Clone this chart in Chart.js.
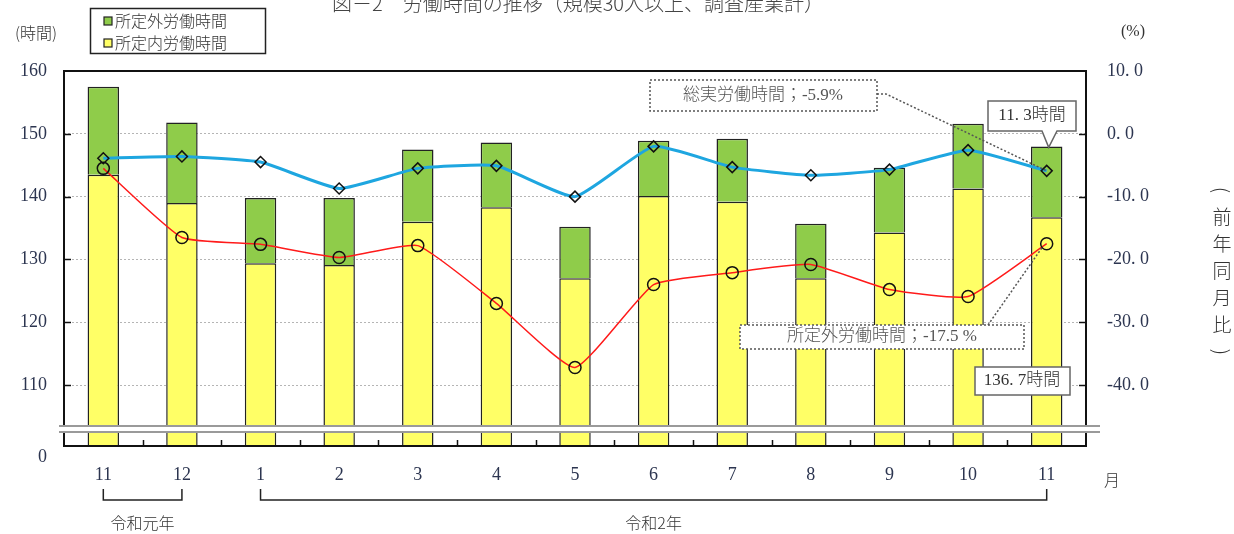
<!DOCTYPE html>
<html>
<head>
<meta charset="utf-8">
<script src="https://cdn.jsdelivr.net/npm/chart.js@4.4.1/dist/chart.umd.min.js"></script>
<style>
  html, body { margin: 0; padding: 0; background: #fff; }
  #c { display: block; }
</style>
</head>
<body>
<canvas id="c" width="1234" height="534"></canvas>
<script>
// months, Nov 2019 .. Nov 2020
const months = ['11', '12', '1', '2', '3', '4', '5', '6', '7', '8', '9', '10', '11']
// hours
const insideHours = [143.5, 139.0, 129.4, 129.1, 136.0, 138.3, 127.0, 140.1, 139.2, 127.0, 134.3, 141.3, 136.7]
const outsideHours = [14.0, 12.8, 10.4, 10.7, 11.5, 10.3, 8.2, 8.8, 10.0, 8.7, 10.3, 10.3, 11.3]
// year-on-year change (%)
const totalPct = [-3.9, -3.6, -4.5, -8.7, -5.5, -5.1, -10.0, -2.0, -5.3, -6.6, -5.7, -2.6, -5.9]
const outsidePct = [-5.5, -16.5, -17.6, -19.7, -17.8, -27.0, -37.2, -24.0, -22.1, -20.8, -24.8, -25.9, -17.5]
const leftTicks = [110, 120, 130, 140, 150, 160]
const rightTicks = [-40, -30, -20, -10, 0, 10]
const years = [
    {label: '令和元年', from: 0, to: 1},
    {label: '令和2年', from: 2, to: 12}
]

const Y_MIN = 100.3, Y_MAX = 160
const R_MIN = -49.7, R_MAX = 10

const serif = '"Liberation Serif", "Noto Sans CJK JP", serif'
const jp = '"Noto Sans CJK JP", sans-serif'
const inkNum = '#2c3550'
const ink = '#333'
const GREEN = '#8fcc4a'
const YELLOW = '#ffff66'

const fmt = v => v.toFixed(1).replace('.', '. ')

function line(ctx, pts) {
    ctx.beginPath()
    ctx.moveTo(pts[0][0], pts[0][1])
    for (let i = 1; i < pts.length; i++) ctx.lineTo(pts[i][0], pts[i][1])
    ctx.stroke()
}

function textAt(ctx, s, x, y, font, color, align) {
    ctx.font = font
    ctx.fillStyle = color
    ctx.textAlign = align || 'center'
    ctx.textBaseline = 'middle'
    ctx.fillText(s, x, y)
}

const decor = {
    id: 'decor',
    afterDatasetsDraw(chart) {
        const {ctx, chartArea: a, scales} = chart
        const x = scales.x, y = scales.y
        ctx.save()
        // frame
        ctx.strokeStyle = '#111'
        ctx.lineWidth = 2
        ctx.strokeRect(a.left, a.top, a.width, a.height)
        // inward ticks
        ctx.lineWidth = 1.5
        leftTicks.slice(0, -1).forEach(v => {
            const py = Math.round(y.getPixelForValue(v)) + 0.5
            line(ctx, [[a.left, py], [a.left + 7, py]])
            line(ctx, [[a.right - 7, py], [a.right, py]])
        })
        for (let i = 0; i < months.length - 1; i++) {
            const px = Math.round((x.getPixelForValue(i) + x.getPixelForValue(i + 1)) / 2) + 0.5
            line(ctx, [[px, a.bottom], [px, a.bottom - 6]])
        }
        // axis break
        const b1 = a.bottom - 20, b2 = a.bottom - 14
        ctx.fillStyle = '#fff'
        ctx.fillRect(a.left - 5, b1, a.width + 19, b2 - b1)
        ctx.strokeStyle = '#9a9a9a'
        ctx.lineWidth = 2
        line(ctx, [[a.left - 5, b1], [a.right + 14, b1]])
        line(ctx, [[a.left - 5, b2], [a.right + 14, b2]])
        ctx.restore()
    },
    afterDraw(chart) {
        const {ctx, chartArea: a, scales} = chart
        const x = scales.x, y = scales.y, y1 = scales.y1
        ctx.save()
        // title (cut at the top edge)
        textAt(ctx, '図－2　労働時間の推移（規模30人以上、調査産業計）', 578, 3, '300 20px ' + jp, '#444')
        // units
        textAt(ctx, '(時間)', 36, 33, '300 16px ' + jp, ink)
        textAt(ctx, '(%)', 1133, 32, '300 16px ' + serif, ink)
        textAt(ctx, '月', a.right + 26, a.bottom + 34, '300 16px ' + jp, ink)
        // vertical right title, brackets turned sideways
        const vt = ['(', '前', '年', '同', '月', '比', ')']
        vt.forEach((ch, i) => {
            const cy = 190 + i * 27
            if (ch === '(' || ch === ')') {
                ctx.save()
                ctx.translate(1222, cy)
                ctx.rotate(Math.PI / 2)
                textAt(ctx, ch, 0, 0, '300 20px ' + jp, ink)
                ctx.restore()
            } else {
                textAt(ctx, ch, 1222, cy, '300 19px ' + jp, ink)
            }
        })
        // legend
        ctx.strokeStyle = '#222'
        ctx.lineWidth = 1.5
        ctx.strokeRect(90.5, 8.5, 175, 45)
        const legend = [[GREEN, '所定外労働時間', 21], [YELLOW, '所定内労働時間', 43]]
        legend.forEach(([c, s, ly]) => {
            ctx.fillStyle = c
            ctx.fillRect(104, ly - 4, 8, 8)
            ctx.lineWidth = 1.2
            ctx.strokeRect(104, ly - 4, 8, 8)
            textAt(ctx, s, 115, ly, '300 16px ' + jp, ink, 'left')
        })
        // year brackets
        ctx.strokeStyle = '#222'
        ctx.lineWidth = 1.5
        years.forEach(g => {
            const x0 = x.getPixelForValue(g.from), x1 = x.getPixelForValue(g.to)
            line(ctx, [[x0, a.bottom + 43], [x0, a.bottom + 54], [x1, a.bottom + 54], [x1, a.bottom + 43]])
            textAt(ctx, g.label, (x0 + x1) / 2, a.bottom + 77, '300 16px ' + jp, ink)
        })
        // annotations
        const last = months.length - 1
        const lx = x.getPixelForValue(last)
        const pTotal = y1.getPixelForValue(totalPct[last])
        const pOut = y1.getPixelForValue(outsidePct[last])
        const pTop = y.getPixelForValue(insideHours[last] + outsideHours[last])
        ctx.setLineDash([2, 2])
        ctx.strokeStyle = '#555'
        ctx.lineWidth = 1.5
        ctx.strokeRect(650, 80, 227, 31)
        line(ctx, [[877, 94], [886, 94], [lx, pTotal]])
        ctx.fillStyle = '#fff'
        ctx.fillRect(740, 325, 284, 24)
        ctx.strokeRect(740, 325, 284, 24)
        line(ctx, [[988, 325], [lx - 4, pOut + 3]])
        ctx.setLineDash([])
        textAt(ctx, '総実労働時間；' + totalPct[last].toFixed(1) + '%', 763, 96, '300 17px ' + serif, '#555')
        textAt(ctx, '所定外労働時間；' + outsidePct[last].toFixed(1) + ' %', 882, 337, '300 17px ' + serif, '#555')
        // callouts
        ctx.strokeStyle = '#666'
        ctx.lineWidth = 1.5
        ctx.fillStyle = '#fff'
        ctx.beginPath()
        ctx.moveTo(988, 101); ctx.lineTo(1076, 101); ctx.lineTo(1076, 131)
        ctx.lineTo(1057, 131); ctx.lineTo(lx + 2, pTop + 1); ctx.lineTo(1042, 131)
        ctx.lineTo(988, 131); ctx.closePath()
        ctx.fill(); ctx.stroke()
        textAt(ctx, fmt(outsideHours[last]) + '時間', 1032, 116, '300 17px ' + serif, ink)
        ctx.fillStyle = '#fff'
        ctx.fillRect(975, 367, 95, 28)
        ctx.strokeRect(975, 367, 95, 28)
        textAt(ctx, fmt(insideHours[last]) + '時間', 1022, 381, '300 17px ' + serif, ink)
        ctx.restore()
    }
}

new Chart(document.getElementById('c'), {
    data: {
        labels: months,
        datasets: [
            {
                type: 'line', label: '総実労働時間', data: totalPct, yAxisID: 'y1', order: 0,
                borderColor: '#1ea6e0', borderWidth: 3, tension: 0.15,
                pointStyle: 'rectRot', pointRadius: 5.5, pointBorderColor: '#111', pointBorderWidth: 1.5,
                pointBackgroundColor: 'rgba(0,0,0,0)'
            },
            {
                type: 'line', label: '所定外労働時間（前年同月比）', data: outsidePct, yAxisID: 'y1', order: 1,
                borderColor: '#ff1a1a', borderWidth: 1.5, tension: 0.15,
                pointStyle: 'circle', pointRadius: 6, pointBorderColor: '#111', pointBorderWidth: 1.5,
                pointBackgroundColor: 'rgba(0,0,0,0)'
            },
            {
                type: 'bar', label: '所定内労働時間', data: insideHours, yAxisID: 'y', order: 2, stack: 'h',
                backgroundColor: YELLOW, borderColor: '#222', borderWidth: 1.5,
                barPercentage: 0.4, categoryPercentage: 1, clip: 0
            },
            {
                type: 'bar', label: '所定外労働時間', data: outsideHours, yAxisID: 'y', order: 3, stack: 'h',
                backgroundColor: GREEN, borderColor: '#222', borderWidth: 1.5,
                barPercentage: 0.4, categoryPercentage: 1, clip: 0
            }
        ]
    },
    options: {
        responsive: false,
        animation: false,
        devicePixelRatio: 1,
        layout: {padding: {top: 71, left: 0, right: 0, bottom: 0}},
        plugins: {legend: {display: false}, tooltip: {enabled: false}},
        scales: {
            x: {
                stacked: true,
                grid: {display: false, drawTicks: false},
                border: {display: false},
                ticks: {padding: 18, color: inkNum, font: {family: serif, size: 18}, maxRotation: 0, autoSkip: false},
                afterFit(s) { s.height = 88 }
            },
            y: {
                stacked: true, position: 'left', min: Y_MIN, max: Y_MAX,
                afterFit(s) { s.width = 64 },
                afterBuildTicks(s) { s.ticks = [Y_MIN, ...leftTicks].map(v => ({value: v})) },
                ticks: {
                    padding: 17, color: inkNum, font: {family: serif, size: 18},
                    callback: v => v === Y_MIN ? ['', '0'] : v
                },
                grid: {
                    drawTicks: false, lineWidth: 1,
                    color: c => (c.tick && (c.tick.value === Y_MIN || c.tick.value === Y_MAX)) ? 'rgba(0,0,0,0)' : '#b5b5b5'
                },
                border: {display: false, dash: [2, 2]}
            },
            y1: {
                position: 'right', min: R_MIN, max: R_MAX,
                afterFit(s) { s.width = 148 },
                afterBuildTicks(s) { s.ticks = rightTicks.map(v => ({value: v})) },
                ticks: {padding: 21, color: inkNum, font: {family: serif, size: 18}, callback: v => fmt(v)},
                grid: {display: false, drawTicks: false},
                border: {display: false}
            }
        }
    },
    plugins: [decor]
})
</script>
</body>
</html>
